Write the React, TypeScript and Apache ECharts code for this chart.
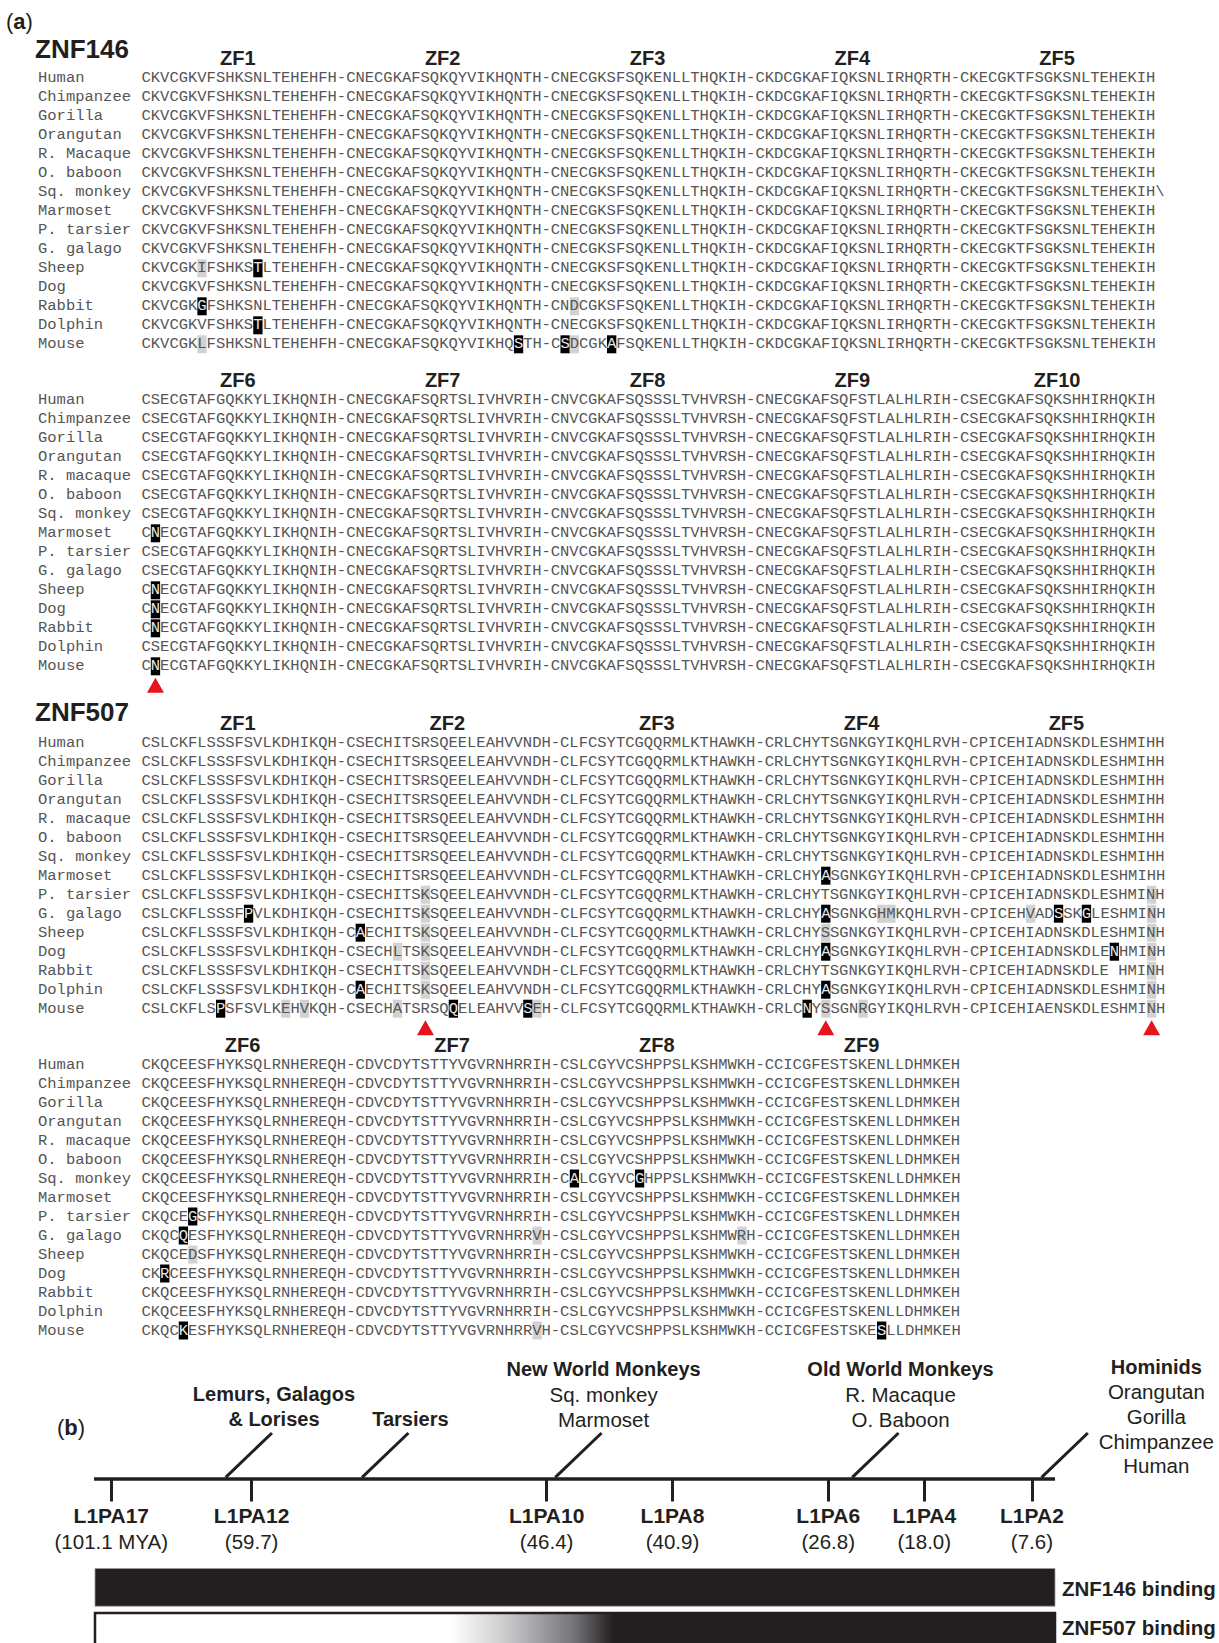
import React, { useEffect, useRef } from "react";
import * as echarts from "echarts";

// ---------------- DATA ----------------
const speciesA = ["Human", "Chimpanzee", "Gorilla", "Orangutan", "R. Macaque", "O. baboon", "Sq. monkey", "Marmoset", "P. tarsier", "G. galago", "Sheep", "Dog", "Rabbit", "Dolphin", "Mouse"];
const speciesB = ["Human", "Chimpanzee", "Gorilla", "Orangutan", "R. macaque", "O. baboon", "Sq. monkey", "Marmoset", "P. tarsier", "G. galago", "Sheep", "Dog", "Rabbit", "Dolphin", "Mouse"];

// ZNF146, zinc fingers 1-5
const z146a = "CKVCGKVFSHKSNLTEHEHFH-CNECGKAFSQKQYVIKHQNTH-CNECGKSFSQKENLLTHQKIH-CKDCGKAFIQKSNLIRHQRTH-CKECGKTFSGKSNLTEHEKIH";
const seq146a = [
  z146a, z146a, z146a, z146a, z146a, z146a,
  z146a + "\\",
  z146a, z146a, z146a,
  "CKVCGKIFSHKSTLTEHEHFH-CNECGKAFSQKQYVIKHQNTH-CNECGKSFSQKENLLTHQKIH-CKDCGKAFIQKSNLIRHQRTH-CKECGKTFSGKSNLTEHEKIH",
  z146a,
  "CKVCGKGFSHKSNLTEHEHFH-CNECGKAFSQKQYVIKHQNTH-CNDCGKSFSQKENLLTHQKIH-CKDCGKAFIQKSNLIRHQRTH-CKECGKTFSGKSNLTEHEKIH",
  "CKVCGKVFSHKSTLTEHEHFH-CNECGKAFSQKQYVIKHQNTH-CNECGKSFSQKENLLTHQKIH-CKDCGKAFIQKSNLIRHQRTH-CKECGKTFSGKSNLTEHEKIH",
  "CKVCGKLFSHKSNLTEHEHFH-CNECGKAFSQKQYVIKHQSTH-CSDCGKAFSQKENLLTHQKIH-CKDCGKAFIQKSNLIRHQRTH-CKECGKTFSGKSNLTEHEKIH",
];
// [row, column, kind]  b = black box, g = grey box
const marks146a: [number, number, string][] = [
  [10, 6, "g"], [10, 12, "b"], [12, 6, "b"], [12, 46, "g"], [13, 12, "b"],
  [14, 6, "g"], [14, 40, "b"], [14, 45, "b"], [14, 46, "g"], [14, 50, "b"],
];
const zf146a = ["ZF1", "ZF2", "ZF3", "ZF4", "ZF5"];
const tri146a: number[] = [];

// ZNF146, zinc fingers 6-10
const z146b = "CSECGTAFGQKKYLIKHQNIH-CNECGKAFSQRTSLIVHVRIH-CNVCGKAFSQSSSLTVHVRSH-CNECGKAFSQFSTLALHLRIH-CSECGKAFSQKSHHIRHQKIH";
const z146bN = "CNECGTAFGQKKYLIKHQNIH-CNECGKAFSQRTSLIVHVRIH-CNVCGKAFSQSSSLTVHVRSH-CNECGKAFSQFSTLALHLRIH-CSECGKAFSQKSHHIRHQKIH";
const seq146b = [z146b, z146b, z146b, z146b, z146b, z146b, z146b, z146bN, z146b, z146b, z146bN, z146bN, z146bN, z146b, z146bN];
const marks146b: [number, number, string][] = [[7, 1, "b"], [10, 1, "b"], [11, 1, "b"], [12, 1, "b"], [14, 1, "b"]];
const zf146b = ["ZF6", "ZF7", "ZF8", "ZF9", "ZF10"];
const tri146b = [1];

// ZNF507, zinc fingers 1-5
const z507a = "CSLCKFLSSSFSVLKDHIKQH-CSECHITSRSQEELEAHVVNDH-CLFCSYTCGQQRMLKTHAWKH-CRLCHYTSGNKGYIKQHLRVH-CPICEHIADNSKDLESHMIHH";
const seq507a = [
  z507a, z507a, z507a, z507a, z507a, z507a, z507a,
  "CSLCKFLSSSFSVLKDHIKQH-CSECHITSRSQEELEAHVVNDH-CLFCSYTCGQQRMLKTHAWKH-CRLCHYASGNKGYIKQHLRVH-CPICEHIADNSKDLESHMIHH",
  "CSLCKFLSSSFSVLKDHIKQH-CSECHITSKSQEELEAHVVNDH-CLFCSYTCGQQRMLKTHAWKH-CRLCHYTSGNKGYIKQHLRVH-CPICEHIADNSKDLESHMINH",
  "CSLCKFLSSSFPVLKDHIKQH-CSECHITSKSQEELEAHVVNDH-CLFCSYTCGQQRMLKTHAWKH-CRLCHYASGNKGHMKQHLRVH-CPICEHVADSSKGLESHMINH",
  "CSLCKFLSSSFSVLKDHIKQH-CAECHITSKSQEELEAHVVNDH-CLFCSYTCGQQRMLKTHAWKH-CRLCHYSSGNKGYIKQHLRVH-CPICEHIADNSKDLESHMINH",
  "CSLCKFLSSSFSVLKDHIKQH-CSECHLTSKSQEELEAHVVNDH-CLFCSYTCGQQRMLKTHAWKH-CRLCHYASGNKGYIKQHLRVH-CPICEHIADNSKDLENHMINH",
  "CSLCKFLSSSFSVLKDHIKQH-CSECHITSKSQEELEAHVVNDH-CLFCSYTCGQQRMLKTHAWKH-CRLCHYTSGNKGYIKQHLRVH-CPICEHIADNSKDLE HMINH",
  "CSLCKFLSSSFSVLKDHIKQH-CAECHITSKSQEELEAHVVNDH-CLFCSYTCGQQRMLKTHAWKH-CRLCHYASGNKGYIKQHLRVH-CPICEHIADNSKDLESHMINH",
  "CSLCKFLSPSFSVLKEHVKQH-CSECHATSRSQQELEAHVVSEH-CLFCSYTCGQQRMLKTHAWKH-CRLCNYSSGNRGYIKQHLRVH-CPICEHIAENSKDLESHMINH",
];
const marks507a: [number, number, string][] = [
  [7, 73, "b"],
  [8, 30, "g"], [8, 108, "g"],
  [9, 11, "b"], [9, 30, "g"], [9, 73, "b"], [9, 79, "g"], [9, 80, "g"], [9, 95, "g"], [9, 98, "b"], [9, 101, "b"], [9, 108, "g"],
  [10, 23, "b"], [10, 30, "g"], [10, 73, "g"], [10, 108, "g"],
  [11, 27, "g"], [11, 30, "g"], [11, 73, "b"], [11, 104, "b"], [11, 108, "g"],
  [12, 30, "g"], [12, 108, "g"],
  [13, 23, "b"], [13, 30, "g"], [13, 73, "b"], [13, 108, "g"],
  [14, 8, "b"], [14, 15, "g"], [14, 17, "g"], [14, 27, "g"], [14, 33, "b"], [14, 41, "b"], [14, 42, "g"], [14, 71, "b"], [14, 73, "g"], [14, 77, "g"], [14, 108, "g"],
];
const zf507a = ["ZF1", "ZF2", "ZF3", "ZF4", "ZF5"];
const tri507a = [30, 73, 108];

// ZNF507, zinc fingers 6-9
const z507b = "CKQCEESFHYKSQLRNHEREQH-CDVCDYTSTTYVGVRNHRRIH-CSLCGYVCSHPPSLKSHMWKH-CCICGFESTSKENLLDHMKEH";
const seq507b = [
  z507b, z507b, z507b, z507b, z507b, z507b,
  "CKQCEESFHYKSQLRNHEREQH-CDVCDYTSTTYVGVRNHRRIH-CALCGYVCGHPPSLKSHMWKH-CCICGFESTSKENLLDHMKEH",
  z507b,
  "CKQCEGSFHYKSQLRNHEREQH-CDVCDYTSTTYVGVRNHRRIH-CSLCGYVCSHPPSLKSHMWKH-CCICGFESTSKENLLDHMKEH",
  "CKQCQESFHYKSQLRNHEREQH-CDVCDYTSTTYVGVRNHRRVH-CSLCGYVCSHPPSLKSHMWRH-CCICGFESTSKENLLDHMKEH",
  "CKQCEDSFHYKSQLRNHEREQH-CDVCDYTSTTYVGVRNHRRIH-CSLCGYVCSHPPSLKSHMWKH-CCICGFESTSKENLLDHMKEH",
  "CKRCEESFHYKSQLRNHEREQH-CDVCDYTSTTYVGVRNHRRIH-CSLCGYVCSHPPSLKSHMWKH-CCICGFESTSKENLLDHMKEH",
  z507b, z507b,
  "CKQCKESFHYKSQLRNHEREQH-CDVCDYTSTTYVGVRNHRRVH-CSLCGYVCSHPPSLKSHMWKH-CCICGFESTSKESLLDHMKEH",
];
const marks507b: [number, number, string][] = [
  [6, 46, "b"], [6, 53, "b"], [8, 5, "b"], [9, 4, "b"], [9, 42, "g"], [9, 64, "g"],
  [10, 5, "g"], [11, 2, "b"], [14, 4, "b"], [14, 42, "g"], [14, 79, "b"],
];
const zf507b = ["ZF6", "ZF7", "ZF8", "ZF9"];
const tri507b: number[] = [];

// Panel (b): timeline
const l1paNames = ["L1PA17", "L1PA12", "L1PA10", "L1PA8", "L1PA6", "L1PA4", "L1PA2"];
const l1paMya = [101.1, 59.7, 46.4, 40.9, 26.8, 18.0, 7.6];
const l1paPos = [1.8, 16.4, 47.1, 60.2, 76.4, 86.4, 97.6]; // schematic timeline position (0-100)
const cladePos = [13.7, 27.9, 48.0, 78.9, 98.6];
const cladeTitles = [["Lemurs, Galagos", "& Lorises"], ["Tarsiers"], ["New World Monkeys"], ["Old World Monkeys"], ["Hominids"]];
const cladeMembers = [[], [], ["Sq. monkey", "Marmoset"], ["R. Macaque", "O. Baboon"], ["Orangutan", "Gorilla", "Chimpanzee", "Human"]];
const bindingNames = ["ZNF146 binding", "ZNF507 binding"];
const bindingOnset = [0, 37.0]; // where binding starts to appear
const bindingFull = [0, 54.0]; // where binding is full

// ---------------- LAYOUT / STYLE ----------------
const INK = "#231f20";
const SEQ_INK = "#555555";
const RED = "#e8141c";
const GREY_BOX = "#d2d2d2";
const MONO = "'Liberation Mono', 'Cousine', 'DejaVu Sans Mono', monospace";
const SANS = "'Liberation Sans', Arial, Helvetica, sans-serif";
const SEQ_LEFT = 141.5;
const CW = 9.31;
const NCOL = 110;
const ROW_H = 19;
const NAME_X = 38;
const PANEL_TOPS = [49.8, 371.8, 714.2, 1036];
const ZF_ROW = -1.05;

const panels = [
  { species: speciesA, seqs: seq146a, marks: marks146a, zf: zf146a, tri: tri146a },
  { species: speciesB, seqs: seq146b, marks: marks146b, zf: zf146b, tri: tri146b },
  { species: speciesB, seqs: seq507a, marks: marks507a, zf: zf507a, tri: tri507a },
  { species: speciesB, seqs: seq507b, marks: marks507b, zf: zf507b, tri: tri507b },
];

function blockCenters(seq: string): number[] {
  const out: number[] = [];
  let start = 0;
  seq.split("-").forEach((b) => {
    out.push(start + b.length / 2 - 0.15);
    start += b.length + 1;
  });
  return out;
}

function buildOption() {
  const grid: any[] = [];
  const xAxis: any[] = [];
  const yAxis: any[] = [];
  const series: any[] = [];

  panels.forEach((p, pi) => {
    grid.push({ left: SEQ_LEFT, top: PANEL_TOPS[pi], width: NCOL * CW, height: 17 * ROW_H, containLabel: false });
    xAxis.push({ gridIndex: pi, type: "value", min: 0, max: NCOL, show: false });
    yAxis.push({ gridIndex: pi, type: "value", min: -1.5, max: 15.5, inverse: true, show: false });

    // highlight boxes
    series.push({
      type: "custom",
      xAxisIndex: pi,
      yAxisIndex: pi,
      z: 1,
      silent: true,
      encode: { x: 0, y: 1 },
      data: p.marks.map((m) => [m[1], m[0], m[2] === "b" ? 1 : 0]),
      renderItem: (params: any, api: any) => {
        const pt = api.coord([api.value(0), api.value(1)]);
        const w = api.size([1, 0])[0];
        return {
          type: "rect",
          shape: { x: pt[0], y: pt[1] - 9, width: w, height: 18 },
          style: { fill: api.value(2) === 1 ? "#000000" : GREY_BOX },
        };
      },
    });

    // species names + sequences
    series.push({
      type: "custom",
      xAxisIndex: pi,
      yAxisIndex: pi,
      z: 2,
      silent: true,
      encode: { x: 0, y: 1 },
      data: p.species.map((_, i) => [0, i]),
      renderItem: (params: any, api: any) => {
        const r = params.dataIndex;
        const pt = api.coord([0, api.value(1)]);
        const cw = api.size([1, 0])[0];
        const fs = cw / 0.6;
        const y = pt[1];
        const s = p.seqs[r];
        const blacks = new Set(p.marks.filter((m) => m[0] === r && m[2] === "b").map((m) => m[1]));
        const children: any[] = [
          {
            type: "text",
            style: { text: p.species[r], x: NAME_X, y, fill: SEQ_INK, fontSize: fs, fontFamily: MONO, align: "left", verticalAlign: "middle" },
          },
        ];
        let run = "";
        let runStart = 0;
        const flush = () => {
          if (run.length) {
            children.push({
              type: "text",
              style: { text: run, x: pt[0] + runStart * cw, y, fill: SEQ_INK, fontSize: fs, fontFamily: MONO, align: "left", verticalAlign: "middle" },
            });
          }
          run = "";
        };
        for (let c = 0; c < s.length; c++) {
          if (blacks.has(c)) {
            flush();
            children.push({
              type: "text",
              style: { text: s[c], x: pt[0] + (c + 0.5) * cw, y, fill: "#e8e8e8", fontSize: fs, fontFamily: MONO, align: "center", verticalAlign: "middle" },
            });
          } else {
            if (run.length === 0) runStart = c;
            run += s[c];
          }
        }
        flush();
        return { type: "group", children };
      },
    });

    // zinc finger labels
    const centers = blockCenters(p.seqs[0]);
    series.push({
      type: "custom",
      xAxisIndex: pi,
      yAxisIndex: pi,
      z: 3,
      silent: true,
      encode: { x: 0, y: 1 },
      data: p.zf.map((_, i) => [centers[i], ZF_ROW]),
      renderItem: (params: any, api: any) => {
        const pt = api.coord([api.value(0), api.value(1)]);
        return {
          type: "text",
          style: { text: p.zf[params.dataIndex], x: pt[0], y: pt[1], fill: INK, fontSize: 20, fontWeight: "bold", fontFamily: SANS, align: "center", verticalAlign: "middle" },
        };
      },
    });

    if (p.tri.length) {
      series.push({
        type: "custom",
        xAxisIndex: pi,
        yAxisIndex: pi,
        z: 3,
        silent: true,
        encode: { x: 0, y: 1 },
        data: p.tri.map((c) => [c + 0.5, 15]),
        renderItem: (params: any, api: any) => {
          const pt = api.coord([api.value(0), api.value(1)]);
          return {
            type: "polygon",
            shape: { points: [[pt[0], pt[1] - 7.5], [pt[0] - 8.5, pt[1] + 7.5], [pt[0] + 8.5, pt[1] + 7.5]] },
            style: { fill: RED },
          };
        },
      });
    }
  });

  // ---------- timeline grid ----------
  const ti = panels.length;
  grid.push({ left: 94, width: 961, top: 1478.5, height: 150 });
  xAxis.push({
    gridIndex: ti,
    type: "value",
    min: 0,
    max: 100,
    position: "top",
    axisLine: { show: true, onZero: false, lineStyle: { color: INK, width: 3.5, cap: "butt" } },
    axisTick: { show: true, inside: true, length: 23, customValues: l1paPos, lineStyle: { color: INK, width: 3 } },
    axisLabel: {
      show: true,
      inside: true,
      margin: 23.5,
      customValues: l1paPos,
      formatter: (v: number) => {
        let best = 0;
        l1paPos.forEach((q, i) => {
          if (Math.abs(q - v) < Math.abs(l1paPos[best] - v)) best = i;
        });
        const mya = l1paMya[best].toFixed(1) + (best === 0 ? " MYA" : "");
        return `{n|${l1paNames[best]}}\n{m|(${mya})}`;
      },
      rich: {
        n: { fontFamily: SANS, fontWeight: "bold", fontSize: 21, lineHeight: 26, color: INK, align: "center" },
        m: { fontFamily: SANS, fontSize: 20.5, lineHeight: 26, color: INK, align: "center" },
      },
    },
    splitLine: { show: false },
  });
  yAxis.push({ gridIndex: ti, type: "value", min: 0, max: 150, inverse: true, show: false });

  // clade branches + labels
  series.push({
    type: "custom",
    xAxisIndex: ti,
    yAxisIndex: ti,
    silent: true,
    encode: { x: 0, y: 1 },
    data: cladePos.map((v) => [v, 0]),
    renderItem: (params: any, api: any) => {
      const i = params.dataIndex;
      const pt = api.coord([api.value(0), 0]);
      const topX = pt[0] + 46.3;
      const topY = pt[1] - 45.5;
      const children: any[] = [
        { type: "line", shape: { x1: pt[0], y1: pt[1] - 1.2, x2: topX, y2: topY }, style: { stroke: INK, lineWidth: 3 } },
      ];
      const lines = [
        ...cladeTitles[i].map((t) => ({ t, b: true })),
        ...cladeMembers[i].map((t) => ({ t, b: false })),
      ];
      const side = i === cladePos.length - 1;
      const cx = side ? topX + 68.5 : topX + 2;
      const spacing = side ? 24.7 : 25;
      const firstY = side ? pt[1] - 111.5 : pt[1] - 59.5 - (lines.length - 1) * spacing;
      lines.forEach((ln, k) => {
        children.push({
          type: "text",
          style: {
            text: ln.t, x: cx, y: firstY + k * spacing, fill: INK,
            fontSize: ln.b ? 20 : 20.5, fontWeight: ln.b ? "bold" : "normal", fontFamily: SANS,
            align: "center", verticalAlign: "middle",
          },
        });
      });
      return { type: "group", children };
    },
  });

  // binding bars
  series.push({
    type: "custom",
    xAxisIndex: ti,
    yAxisIndex: ti,
    silent: true,
    encode: { x: [0, 1], y: 2 },
    data: bindingNames.map((_, i) => [bindingOnset[i], bindingFull[i], 0]),
    renderItem: (params: any, api: any) => {
      const i = params.dataIndex;
      const left = api.coord([0, 0]);
      const right = api.coord([100, 0]);
      const on = api.value(0) / 100;
      const full = api.value(1) / 100;
      const y = left[1] + 90 + i * 43.4;
      const h = i === 0 ? 37.7 : 45;
      const fill =
        full <= 0
          ? INK
          : new echarts.graphic.LinearGradient(0, 0, 1, 0, [
              { offset: 0, color: "#ffffff" },
              { offset: on, color: "#ffffff" },
              { offset: on + (full - on) * 0.35, color: "#c9c9cb" },
              { offset: on + (full - on) * 0.75, color: "#76767a" },
              { offset: full, color: INK },
              { offset: 1, color: INK },
            ]);
      return {
        type: "group",
        children: [
          {
            type: "rect",
            shape: { x: left[0] + 1, y: y + (i === 0 ? 0 : 1.2), width: right[0] - left[0] - 1, height: h },
            style: { fill, stroke: i === 0 ? "#9a9a9a" : INK, lineWidth: i === 0 ? 0.8 : 2.5 },
          },
          {
            type: "text",
            style: {
              text: bindingNames[i], x: right[0] + 7, y: i === 0 ? y + 20 : y + 15.5, fill: INK,
              fontSize: 20.5, fontWeight: "bold", fontFamily: SANS, align: "left", verticalAlign: "middle",
            },
          },
        ],
      };
    },
  });

  const panelLabel = (letter: string, x: number, y: number) => ({
    type: "text",
    x,
    y,
    style: {
      text: `{p|(}{b|${letter}}{p|)}`,
      rich: {
        p: { fontFamily: SANS, fontSize: 22, fill: INK },
        b: { fontFamily: SANS, fontSize: 22, fontWeight: "bold", fill: INK },
      },
      verticalAlign: "middle",
      align: "left",
    },
  });

  return {
    animation: false,
    backgroundColor: "#ffffff",
    grid,
    xAxis,
    yAxis,
    series,
    graphic: [
      panelLabel("a", 6, 21),
      panelLabel("b", 57, 1427.5),
      { type: "text", x: 35, y: 49, style: { text: "ZNF146", fontFamily: SANS, fontSize: 26, fontWeight: "bold", fill: INK, verticalAlign: "middle", align: "left" } },
      { type: "text", x: 35, y: 712, style: { text: "ZNF507", fontFamily: SANS, fontSize: 26, fontWeight: "bold", fill: INK, verticalAlign: "middle", align: "left" } },
    ],
  };
}

export default function App() {
  const ref = useRef<HTMLDivElement>(null);
  useEffect(() => {
    document.body.style.margin = "0";
    if (!ref.current) return;
    const chart = echarts.init(ref.current, null, { renderer: "svg" });
    chart.setOption(buildOption() as any);
    return () => chart.dispose();
  }, []);
  return <div ref={ref} style={{ width: 1219, height: 1643 }} />;
}
